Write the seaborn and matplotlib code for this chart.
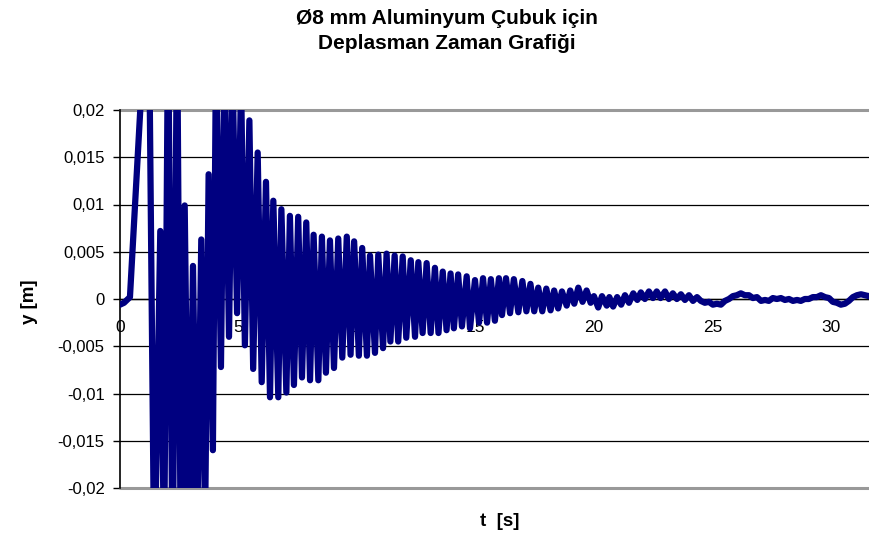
import numpy as np
import matplotlib
matplotlib.use("Agg")
import matplotlib.pyplot as plt
import seaborn as sns

## Datos (extremos de la oscilación)

# Arranque: subida y primeras oscilaciones fuera de escala
t_inicio = [0.00, 0.17, 0.42, 1.20, 1.45, 1.70, 1.86, 2.03, 2.22, 2.41, 2.57, 2.73,
            2.91, 3.08, 3.25, 3.43, 3.59, 3.74, 3.92, 4.05, 4.26, 4.41, 4.60, 4.75,
            4.94, 5.11, 5.27]
y_inicio = [-0.0006, -0.0004, 0.0002, 0.0357, -0.0300, 0.0072, -0.0280, 0.0300, -0.0300,
            0.0300, -0.0300, 0.0099, -0.0280, 0.0035, -0.0260, 0.0063, -0.0240, 0.0132,
            -0.0160, 0.0260, -0.0072, 0.0260, -0.0040, 0.0240, -0.0015, 0.0230, -0.0049]

# Amortiguamiento
t_amort = [5.46, 5.62, 5.81, 5.98, 6.16, 6.33, 6.47, 6.68, 6.81, 7.02, 7.17, 7.34,
           7.52, 7.68, 7.86, 8.02, 8.17, 8.37, 8.52, 8.69, 8.86, 9.03, 9.21, 9.38,
           9.57, 9.73, 9.88, 10.08, 10.22, 10.42, 10.55, 10.76, 10.90, 11.10, 11.25, 11.41,
           11.59, 11.74, 11.93, 12.08, 12.27, 12.45, 12.59, 12.77, 12.94, 13.11, 13.29, 13.44,
           13.62, 13.78, 13.95, 14.09, 14.27, 14.43, 14.63, 14.77, 14.98, 15.15, 15.32, 15.49,
           15.65, 15.82, 15.99, 16.12, 16.29, 16.46, 16.62, 16.81, 16.98, 17.15, 17.32, 17.48,
           17.65, 17.82, 17.99, 18.17, 18.32, 18.49, 18.65, 18.85, 19.00, 19.17, 19.34, 19.52,
           19.69, 19.86, 20.00, 20.18, 20.34, 20.54]
y_amort = [0.0189, -0.0074, 0.0155, -0.0088, 0.0124, -0.0104, 0.0104, -0.0104, 0.0095, -0.0099,
           0.0088, -0.0091, 0.0087, -0.0083, 0.0081, -0.0086, 0.0068, -0.0086, 0.0066, -0.0078,
           0.0062, -0.0073, 0.0064, -0.0062, 0.0066, -0.0059, 0.0061, -0.0060, 0.0054, -0.0060,
           0.0046, -0.0057, 0.0047, -0.0052, 0.0048, -0.0045, 0.0046, -0.0045, 0.0045, -0.0041,
           0.0041, -0.0040, 0.0039, -0.0036, 0.0038, -0.0036, 0.0033, -0.0036, 0.0029, -0.0033,
           0.0027, -0.0031, 0.0026, -0.0029, 0.0024, -0.0031, 0.0020, -0.0025, 0.0022, -0.0025,
           0.0021, -0.0023, 0.0022, -0.0017, 0.0022, -0.0015, 0.0021, -0.0014, 0.0019, -0.0013,
           0.0016, -0.0013, 0.0012, -0.0013, 0.0011, -0.0012, 0.0009, -0.0010, 0.0008, -0.0007,
           0.0009, -0.0005, 0.0012, -0.0003, 0.0009, -0.0004, 0.0003, -0.0009, 0.0003, -0.0007]

# Cola: ondulación lenta de baja amplitud
t_cola = [20.65, 20.81, 20.98, 21.15, 21.31, 21.48, 21.66, 21.83, 21.98, 22.15, 22.32, 22.49,
          22.65, 22.81, 23.00, 23.16, 23.33, 23.50, 23.67, 23.84, 24.01, 24.18, 24.35, 24.51,
          24.68, 24.85, 25.02, 25.19, 25.36, 25.53, 25.70, 25.86, 26.03, 26.20, 26.37, 26.54,
          26.71, 26.88, 27.05, 27.22, 27.38, 27.55, 27.72, 27.89, 28.06, 28.23, 28.40, 28.57,
          28.73, 28.90, 29.07, 29.24, 29.41, 29.58, 29.75, 29.92, 30.08, 30.25, 30.42, 30.59,
          30.76, 30.93, 31.10, 31.27, 31.43, 31.60, 31.73]
y_cola = [0.0002, -0.0008, 0.0002, -0.0006, 0.0004, -0.0004, 0.0006, -0.0001, 0.0007, 0.0000,
          0.0008, 0.0001, 0.0008, 0.0001, 0.0008, 0.0000, 0.0006, 0.0000, 0.0005, -0.0001,
          0.0004, -0.0002, 0.0002, -0.0002, -0.0004, -0.0003, -0.0006, -0.0005, -0.0006, -0.0002,
          0.0000, 0.0003, 0.0004, 0.0006, 0.0004, 0.0004, 0.0001, 0.0002, -0.0002, -0.0001,
          -0.0002, 0.0001, 0.0000, 0.0001, -0.0001, 0.0000, -0.0002, -0.0001, -0.0002, 0.0000,
          0.0000, 0.0002, 0.0002, 0.0004, 0.0002, 0.0001, -0.0003, -0.0004, -0.0006, -0.0005,
          -0.0002, 0.0002, 0.0004, 0.0005, 0.0004, 0.0003, 0.0004]

t = np.array(t_inicio + t_amort + t_cola)
y = np.array(y_inicio + y_amort + y_cola)

# Ejes
x_ticks = [0, 5, 10, 15, 20, 25, 30]
y_ticks = [-0.02, -0.015, -0.01, -0.005, 0, 0.005, 0.01, 0.015, 0.02]
y_labels = ["-0,02", "-0,015", "-0,01", "-0,005", "0", "0,005", "0,01", "0,015", "0,02"]

titulo = "Ø8 mm Aluminyum Çubuk için\nDeplasman Zaman Grafiği"

## Gráfico

sns.set_style("white")
plt.rcParams["font.family"] = ["Liberation Sans", "DejaVu Sans"]
plt.rcParams["text.color"] = "black"

fig = plt.figure(figsize=(8.7, 5.45), dpi=100)
ax = fig.add_axes([120 / 870, 1 - 488 / 545, 750 / 870, 378 / 545])

sns.lineplot(x=t, y=y, ax=ax, color="#000080", linewidth=4.5, estimator=None, sort=False,
             solid_joinstyle="round", solid_capstyle="round", zorder=3)

ax.set_xlim(0, 31.65)
ax.set_ylim(-0.02, 0.02)
ax.set_xticks(x_ticks)
ax.set_xticklabels([str(v) for v in x_ticks])
ax.set_yticks(y_ticks)
ax.set_yticklabels(y_labels)
ax.set_xlabel("")
ax.set_ylabel("")

# Rejilla horizontal negra, bordes grises arriba y abajo
ax.set_axisbelow(True)
ax.yaxis.grid(True, color="black", linewidth=0.9)
ax.xaxis.grid(False)
for lim in (-0.02, 0.02):
    ax.axhline(lim, color="#999999", linewidth=2.2, zorder=2, clip_on=False)

ax.spines["bottom"].set_position(("data", 0))
ax.spines["bottom"].set_color("black")
ax.spines["bottom"].set_linewidth(1)
ax.spines["bottom"].set_zorder(2)
ax.spines["left"].set_color("black")
ax.spines["left"].set_linewidth(1.2)
ax.spines["top"].set_visible(False)
ax.spines["right"].set_visible(False)

ax.tick_params(axis="x", length=0, pad=15, labelsize=12.5, colors="black")
ax.tick_params(axis="y", direction="out", length=5, width=1, pad=6, labelsize=12,
               left=True, colors="black")

fig.text(447 / 870, 1 - 31 / 545, titulo, ha="center", va="center", fontsize=15,
         fontweight="bold", linespacing=1.45, color="black")
fig.text(30 / 870, 1 - 302 / 545, "y [m]", ha="center", va="center", rotation=90,
         fontsize=13.5, fontweight="bold", color="black")
fig.text(500 / 870, 1 - 522 / 545, "t  [s]", ha="center", va="center", fontsize=13.5,
         fontweight="bold", color="black")

plt.savefig("out.png", dpi=100)
